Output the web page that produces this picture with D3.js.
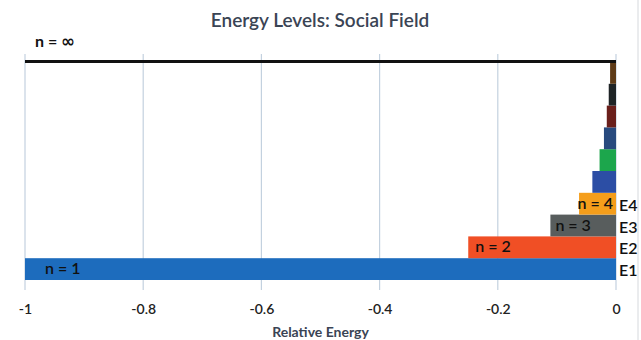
<!DOCTYPE html>
<html>
<head>
<meta charset="utf-8">
<script src="https://cdn.jsdelivr.net/npm/d3@7"></script>
<style>
  html, body { margin: 0; padding: 0; background: #fff; }
  svg { display: block; font-family: Lato, "Open Sans", sans-serif; }
</style>
</head>
<body>
<svg id="chart" width="641" height="340"></svg>
<script>
// Energy levels n = 1..10, relative energy -1/n^2
const levels = [1, 2, 3, 4, 5, 6, 7, 8, 9, 10];
const energies = [-1, -0.25, -0.111, -0.0625, -0.04, -0.0278, -0.0204, -0.0156, -0.0123, -0.01];
const barColors = ["#1d6cbd", "#f04f25", "#585d5d", "#f59e1b", "#2c4ea5", "#1ca64c", "#284a7e", "#6a1f1b", "#1e2426", "#5e3b17"];
const levelLabels = ["n = 1", "n = 2", "n = 3", "n = 4"];
const sideLabels = ["E1", "E2", "E3", "E4"];
const xTicks = [-1, -0.8, -0.6, -0.4, -0.2, 0];
const xTickLabels = ["-1", "-0.8", "-0.6", "-0.4", "-0.2", "0"];

const svg = d3.select("#chart");
const x = d3.scaleLinear().domain([-1, 0]).range([25, 616]);
const y = d3.scaleBand().domain(levels).range([280, 62]).padding(0);

// vertical gridlines
svg.append("g").selectAll("line").data(xTicks).join("line")
  .attr("x1", d => x(d)).attr("x2", d => x(d))
  .attr("y1", 54).attr("y2", 290)
  .attr("stroke", "#c3d1df").attr("stroke-width", 1.2);

// right frame edge
svg.append("line").attr("x1", 638).attr("x2", 638).attr("y1", 0).attr("y2", 340)
  .attr("stroke", "#d6d9dd").attr("stroke-width", 1);

// bars
svg.append("g").selectAll("rect").data(levels).join("rect")
  .attr("x", (d, i) => x(energies[i]))
  .attr("width", (d, i) => x(0) - x(energies[i]))
  .attr("y", d => y(d))
  .attr("height", y.bandwidth())
  .attr("fill", (d, i) => barColors[i]);

// ionisation limit n = infinity
svg.append("line").attr("x1", x(-1)).attr("x2", x(0))
  .attr("y1", y(10) - 0.5).attr("y2", y(10) - 0.5)
  .attr("stroke", "#111").attr("stroke-width", 3);
const inf = svg.append("text").attr("x", 35).attr("y", 47)
  .attr("font-size", 16).attr("font-weight", 700).attr("fill", "#111");
inf.append("tspan").text("n = ");
inf.append("tspan").attr("font-family", "'DejaVu Sans', sans-serif").attr("font-size", 17).text("\u221E");

// labels on the lowest bars
const lbl = svg.append("g").attr("font-size", 16).attr("font-weight", 600).attr("fill", "#111");
levelLabels.forEach((t, i) => {
  const n = levels[i];
  const cy = y(n) + y.bandwidth() / 2 + 5;
  if (i < 3) {
    const offs = [20, 7, 5][i];
    lbl.append("text").attr("x", x(energies[i]) + offs).attr("y", cy).text(t);
  } else {
    lbl.append("text").attr("x", x(0) - 3).attr("y", cy).attr("text-anchor", "end").text(t);
  }
});

// E labels at the right edge
const side = svg.append("g").attr("font-size", 16).attr("font-weight", 600).attr("fill", "#111");
sideLabels.forEach((t, i) => {
  side.append("text").attr("x", x(0) + 3).attr("y", y(levels[i]) + y.bandwidth() / 2 + 7).text(t);
});

// x axis tick labels
const axis = d3.axisBottom(x).tickValues(xTicks).tickSize(0).tickPadding(0)
  .tickFormat((d, i) => xTickLabels[i]);
const ax = svg.append("g").attr("transform", "translate(0,304)").call(axis);
ax.select(".domain").remove();
ax.selectAll("text").attr("font-size", 14).attr("font-weight", 600)
  .attr("fill", "#222").attr("font-family", "Lato, 'Open Sans', sans-serif");

// axis title
svg.append("text").attr("x", x(-0.5)).attr("y", 337).attr("text-anchor", "middle")
  .attr("font-size", 14).attr("font-weight", 700).attr("fill", "#3a4454")
  .text("Relative Energy");

// chart title
svg.append("text").attr("x", 320).attr("y", 27).attr("text-anchor", "middle")
  .attr("font-size", 19).attr("font-weight", 600).attr("fill", "#3a4454")
  .text("Energy Levels: Social Field");
</script>
</body>
</html>
